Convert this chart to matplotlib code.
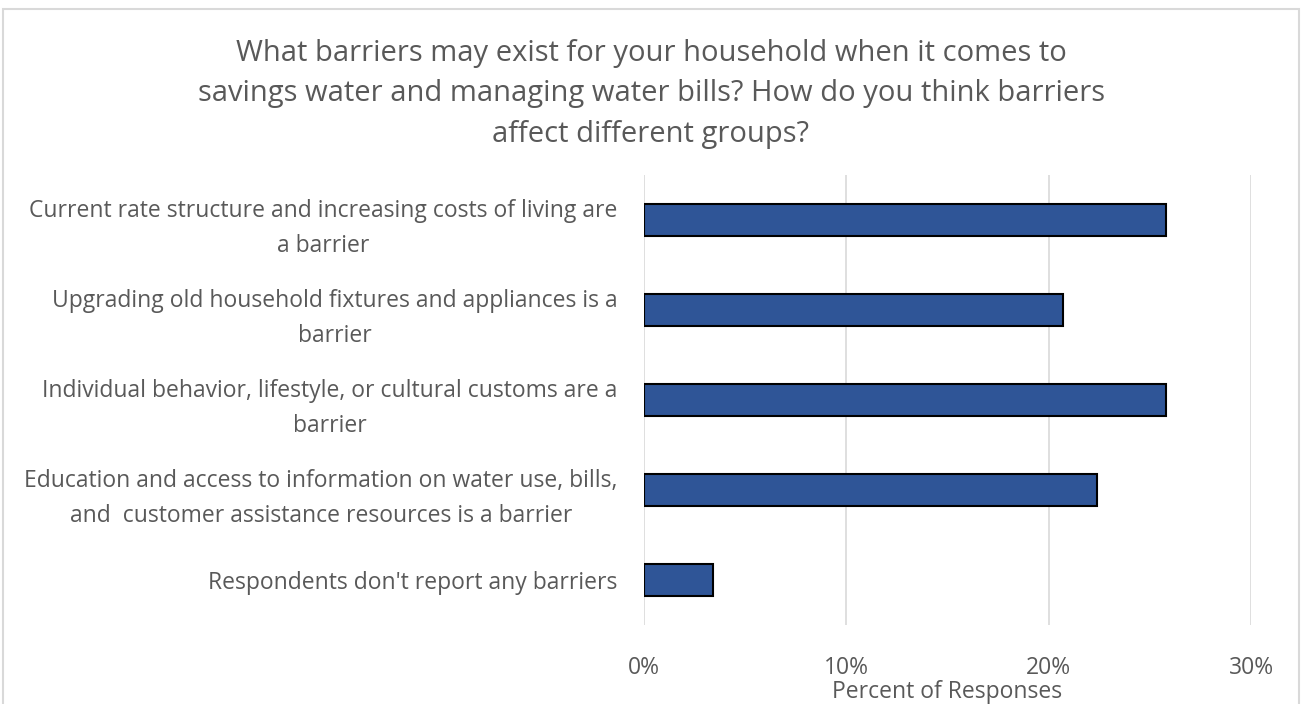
import matplotlib.pyplot as plt
from matplotlib.patches import Rectangle
from matplotlib.ticker import PercentFormatter

categories = [
    "Current rate structure and increasing costs of living are\na barrier",
    "Upgrading old household fixtures and appliances is a\nbarrier",
    "Individual behavior, lifestyle, or cultural customs are a\nbarrier",
    "Education and access to information on water use, bills,\nand  customer assistance resources is a barrier",
    "Respondents don't report any barriers",
]
values = [25.8, 20.7, 25.8, 22.4, 3.4]

title = ("What barriers may exist for your household when it comes to\n"
         "savings water and managing water bills? How do you think barriers\n"
         "affect different groups?")

plt.rcParams['font.family'] = ['Open Sans', 'DejaVu Sans']
text_color = '#595959'

fig = plt.figure(figsize=(13.02, 7.04), dpi=100)
ax = fig.add_axes([644 / 1302, 1 - 625 / 704, (1251 - 644) / 1302, (625 - 175) / 704])

ypos = list(range(len(categories)))
ax.barh(ypos, values, height=0.36, color='#2F5597', edgecolor='black', linewidth=1.5, zorder=3)

ax.set_xlim(0, 30)
ax.set_ylim(len(categories) - 0.5, -0.5)
ax.set_xticks([0, 10, 20, 30])
ax.xaxis.set_major_formatter(PercentFormatter(decimals=0))
ax.set_yticks(ypos)
ax.set_yticklabels(categories, ha='right', multialignment='center', linespacing=1.62)
ax.tick_params(axis='y', length=0, pad=19, labelsize=16.5, labelcolor=text_color)
ax.tick_params(axis='x', length=0, pad=22, labelsize=16.5, labelcolor=text_color)
ax.grid(axis='x', color='#D9D9D9', linewidth=1.2, zorder=0)
for s in ax.spines.values():
    s.set_visible(False)

ax.set_xlabel("Percent of Responses", fontsize=16.5, color=text_color, labelpad=0)

fig.text(0.5, 1 - 94 / 704, title, ha='center', va='center', fontsize=21,
         color=text_color, linespacing=1.52)

# light frame around the chart area
fig.patches.append(Rectangle((3 / 1302, -0.01), 1 - 6 / 1302, 1 - 9 / 704 + 0.01,
                             transform=fig.transFigure, fill=False,
                             edgecolor='#D9D9D9', linewidth=1.5))

fig.savefig('out.png', dpi=100)
